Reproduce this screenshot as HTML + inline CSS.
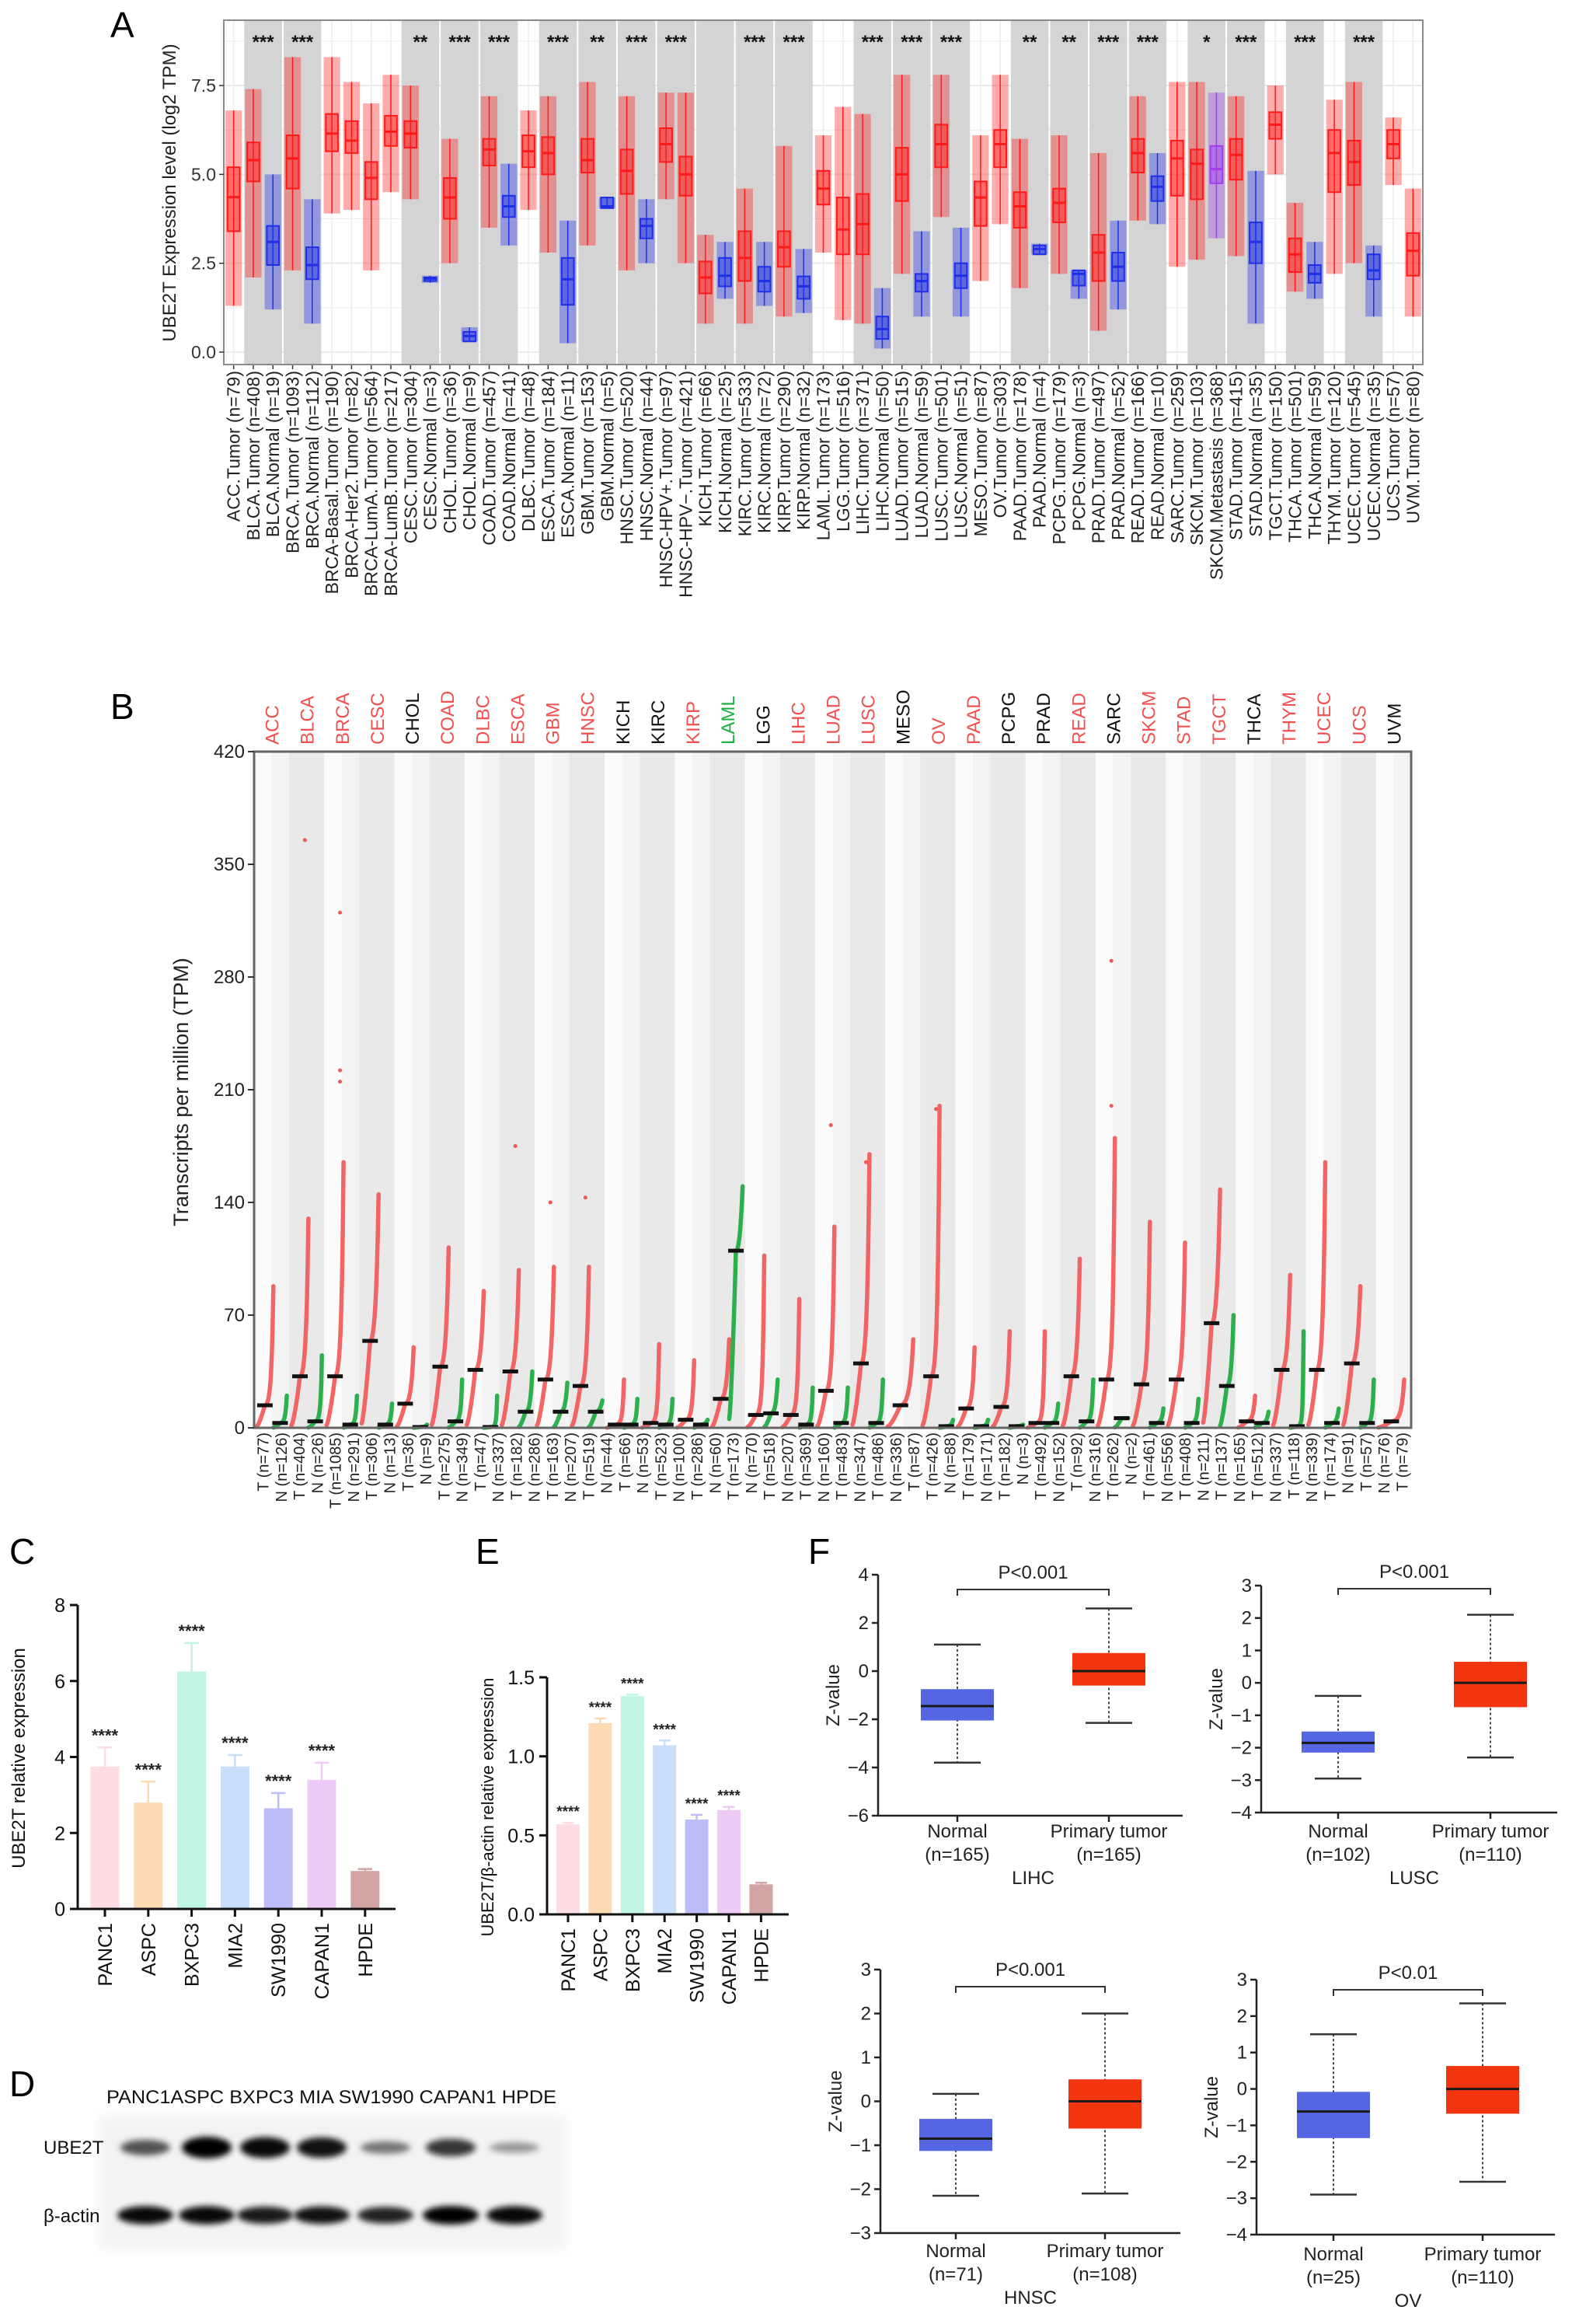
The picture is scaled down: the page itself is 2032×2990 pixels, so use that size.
<!DOCTYPE html>
<html><head><meta charset="utf-8"><title>UBE2T figure</title>
<style>
html,body{margin:0;padding:0;background:#fff;}
svg{display:block;font-family:"Liberation Sans",Arial,sans-serif;}
</style></head>
<body>
<svg id="fig" xmlns="http://www.w3.org/2000/svg" width="2032" height="2990" viewBox="0 0 2032 2990">
<defs>
<filter id="blur3" x="-30%" y="-100%" width="160%" height="300%"><feGaussianBlur stdDeviation="4"/></filter>
<filter id="blur8" x="-10%" y="-10%" width="120%" height="120%"><feGaussianBlur stdDeviation="8"/></filter>
</defs>
<rect x="0" y="0" width="2032" height="2990" fill="#fff"/>
<text x="142" y="48" font-size="46">A</text>
<text x="142" y="925" font-size="46">B</text>
<text x="12" y="2012" font-size="46">C</text>
<text x="612" y="2012" font-size="46">E</text>
<text x="12" y="2697" font-size="46">D</text>
<text x="1040" y="2012" font-size="46">F</text>
<g id="gA"></g>
<g id="gB"></g>
<g id="gC"></g>
<g id="gE"></g>
<g id="gD"></g>
<g id="gF"></g>
</svg>
<script>
// ---------- Panel A data ----------
const aLabels=["ACC.Tumor (n=79)","BLCA.Tumor (n=408)","BLCA.Normal (n=19)","BRCA.Tumor (n=1093)","BRCA.Normal (n=112)","BRCA-Basal.Tumor (n=190)","BRCA-Her2.Tumor (n=82)","BRCA-LumA.Tumor (n=564)","BRCA-LumB.Tumor (n=217)","CESC.Tumor (n=304)","CESC.Normal (n=3)","CHOL.Tumor (n=36)","CHOL.Normal (n=9)","COAD.Tumor (n=457)","COAD.Normal (n=41)","DLBC.Tumor (n=48)","ESCA.Tumor (n=184)","ESCA.Normal (n=11)","GBM.Tumor (n=153)","GBM.Normal (n=5)","HNSC.Tumor (n=520)","HNSC.Normal (n=44)","HNSC-HPV+.Tumor (n=97)","HNSC-HPV−.Tumor (n=421)","KICH.Tumor (n=66)","KICH.Normal (n=25)","KIRC.Tumor (n=533)","KIRC.Normal (n=72)","KIRP.Tumor (n=290)","KIRP.Normal (n=32)","LAML.Tumor (n=173)","LGG.Tumor (n=516)","LIHC.Tumor (n=371)","LIHC.Normal (n=50)","LUAD.Tumor (n=515)","LUAD.Normal (n=59)","LUSC.Tumor (n=501)","LUSC.Normal (n=51)","MESO.Tumor (n=87)","OV.Tumor (n=303)","PAAD.Tumor (n=178)","PAAD.Normal (n=4)","PCPG.Tumor (n=179)","PCPG.Normal (n=3)","PRAD.Tumor (n=497)","PRAD.Normal (n=52)","READ.Tumor (n=166)","READ.Normal (n=10)","SARC.Tumor (n=259)","SKCM.Tumor (n=103)","SKCM.Metastasis (n=368)","STAD.Tumor (n=415)","STAD.Normal (n=35)","TGCT.Tumor (n=150)","THCA.Tumor (n=501)","THCA.Normal (n=59)","THYM.Tumor (n=120)","UCEC.Tumor (n=545)","UCEC.Normal (n=35)","UCS.Tumor (n=57)","UVM.Tumor (n=80)"];
const aMed=[4.36,5.4,3.1,5.45,2.45,6.15,5.95,4.9,6.2,6.15,2.07,4.35,0.45,5.7,4.1,5.65,5.6,2.05,5.4,4.1,5.1,3.55,5.85,5.0,2.1,2.15,2.65,2.0,2.95,1.85,4.6,3.45,3.6,0.65,5.0,2.0,5.85,2.15,4.35,5.85,4.1,2.9,4.2,2.2,2.8,2.4,5.6,4.65,5.45,5.3,5.15,5.55,3.1,6.4,2.75,2.2,5.6,5.35,2.3,5.85,2.85];
const aQ1=[3.4,4.8,2.45,4.6,2.05,5.65,5.6,4.3,5.8,5.75,2.0,3.75,0.3,5.25,3.8,5.2,5.0,1.33,5.05,4.05,4.45,3.2,5.35,4.4,1.65,1.85,2.0,1.7,2.4,1.5,4.15,2.75,2.75,0.37,4.25,1.7,5.2,1.8,3.55,5.2,3.5,2.75,3.65,1.87,2.0,2.0,5.05,4.25,4.4,4.3,4.75,4.85,2.5,6.0,2.25,1.95,4.5,4.7,2.05,5.45,2.15];
const aQ3=[5.2,5.9,3.55,6.1,2.95,6.7,6.5,5.35,6.65,6.5,2.1,4.9,0.57,6.0,4.4,6.1,6.05,2.65,6.0,4.35,5.7,3.75,6.3,5.5,2.55,2.65,3.4,2.4,3.4,2.13,5.1,4.35,4.45,1.0,5.75,2.2,6.4,2.5,4.8,6.25,4.5,3.0,4.6,2.3,3.3,2.8,6.0,4.95,5.95,5.7,5.8,6.0,3.65,6.75,3.2,2.45,6.25,5.95,2.75,6.25,3.35];
const aLo=[1.3,2.1,1.2,2.3,0.8,3.9,4.0,2.3,4.5,4.3,1.95,2.5,0.3,3.5,3.0,4.0,2.8,0.25,3.0,4.05,2.3,2.5,4.3,2.5,0.8,1.5,0.8,1.3,1.0,1.1,2.8,0.9,0.8,0.1,2.2,1.0,3.8,1.0,2.0,3.6,1.8,2.75,2.2,1.5,0.6,1.2,3.7,3.6,2.4,2.6,3.2,2.7,0.8,5.0,1.7,1.5,2.2,2.5,1.0,4.7,1.0];
const aHi=[6.8,7.4,5.0,8.3,4.3,8.3,7.6,7.0,7.8,7.5,2.15,6.0,0.7,7.2,5.3,6.8,7.2,3.7,7.6,4.35,7.2,4.3,7.3,7.3,3.3,3.1,4.6,3.1,5.8,2.9,6.1,6.9,6.7,1.8,7.8,3.4,7.8,3.5,6.1,7.8,6.0,3.05,6.1,2.3,5.6,3.7,7.2,5.6,7.6,7.6,7.3,7.2,5.1,7.5,4.2,3.1,7.1,7.6,3.0,6.6,4.6];
const aGroupStart=[1,3,9,11,13,16,18,20,22,24,26,28,32,34,36,40,42,44,46,49,51,54,57];
const aGroupEnd=[2,4,10,12,14,17,19,21,23,25,27,29,33,35,37,41,43,45,47,50,52,55,58];
const aStars=["***","***","**","***","***","***","**","***","***","","***","***","***","***","***","**","**","***","***","*","***","***","***"];
const aTicks=[0,2.5,5,7.5];
const aTickLabels=["0.0","2.5","5.0","7.5"];

// ---------- Panel B data ----------
const bCancers=["ACC","BLCA","BRCA","CESC","CHOL","COAD","DLBC","ESCA","GBM","HNSC","KICH","KIRC","KIRP","LAML","LGG","LIHC","LUAD","LUSC","MESO","OV","PAAD","PCPG","PRAD","READ","SARC","SKCM","STAD","TGCT","THCA","THYM","UCEC","UCS","UVM"];
const bLabelColor=["r","r","r","r","k","r","r","r","r","r","k","k","r","g","k","r","r","r","k","r","r","k","k","r","k","r","r","r","k","r","r","r","k"];
const bTMed=[14,32,32,54,15,38,36,35,30,26,2,3,5,18,8,8,23,40,14,32,12,13,3,32,30,27,30,65,4,36,36,40,4];
const bTMax=[88,130,165,145,50,112,85,98,100,100,30,52,42,55,107,80,125,170,55,200,50,60,60,105,180,128,115,148,20,95,165,88,30];
const bNMed=[3,4,2,2,0.5,4,0.5,10,10,10,2,2,2,110,9,2,3,3,null,1,1,1,3,4,6,3,3,26,3,1,3,3,null];
const bNMax=[20,45,20,15,2,30,20,35,28,17,18,18,5,150,30,25,25,30,null,5,5,2,15,30,6,12,18,70,10,60,12,30,null];
const bOutCancer=[1,2,2,2,7,8,9,19,24,24,16,17];
const bOutVal=[365,320,222,215,175,140,143,198,290,200,188,165];
const bXLabels=["T (n=77)","N (n=126)","T (n=404)","N (n=26)","T (n=1085)","N (n=291)","T (n=306)","N (n=13)","T (n=36)","N (n=9)","T (n=275)","N (n=349)","T (n=47)","N (n=337)","T (n=182)","N (n=286)","T (n=163)","N (n=207)","T (n=519)","N (n=44)","T (n=66)","N (n=53)","T (n=523)","N (n=100)","T (n=286)","N (n=60)","T (n=173)","N (n=70)","T (n=518)","N (n=207)","T (n=369)","N (n=160)","T (n=483)","N (n=347)","T (n=486)","N (n=336)","T (n=87)","T (n=426)","N (n=88)","T (n=179)","N (n=171)","T (n=182)","N (n=3)","T (n=492)","N (n=152)","T (n=92)","N (n=316)","T (n=262)","N (n=2)","T (n=461)","N (n=556)","T (n=408)","N (n=211)","T (n=137)","N (n=165)","T (n=512)","N (n=337)","T (n=118)","N (n=339)","T (n=174)","N (n=91)","T (n=57)","N (n=76)","T (n=79)"];
const bTicks=[0,70,140,210,280,350,420];

// ---------- Panel C / E data ----------
const cellLines=["PANC1","ASPC","BXPC3","MIA2","SW1990","CAPAN1","HPDE"];
const cValues=[3.75,2.8,6.25,3.75,2.65,3.4,1.0];
const cErrors=[0.5,0.55,0.75,0.3,0.4,0.45,0.05];
const cSig=["****","****","****","****","****","****",""];
const cTicks=[0,2,4,6,8];
const eValues=[0.57,1.21,1.38,1.07,0.60,0.66,0.19];
const eErrors=[0.01,0.03,0.01,0.03,0.03,0.02,0.01];
const eSig=["****","****","****","****","****","****",""];
const eTicks=[0,0.5,1.0,1.5];
const eTickLabels=["0.0","0.5","1.0","1.5"];

// ---------- Panel D data ----------
const blotLanes=["PANC1","ASPC","BXPC3","MIA","SW1990","CAPAN1","HPDE"];
const ube2tIntensity=[0.55,1.0,0.95,0.9,0.35,0.7,0.18];
const actinIntensity=[0.95,0.95,0.85,0.9,0.8,1.0,0.95];

// ---------- Panel F data ----------
const fCancers=["LIHC","LUSC","HNSC","OV"];
const fPvals=["P<0.001","P<0.001","P<0.001","P<0.01"];
const fNormalN=["(n=165)","(n=102)","(n=71)","(n=25)"];
const fTumorN=["(n=165)","(n=110)","(n=108)","(n=110)"];
const fNormalLo=[-3.8,-2.95,-2.15,-2.9];
const fNormalQ1=[-2.05,-2.15,-1.13,-1.35];
const fNormalMed=[-1.45,-1.85,-0.85,-0.62];
const fNormalQ3=[-0.75,-1.5,-0.4,-0.08];
const fNormalHi=[1.1,-0.4,0.17,1.5];
const fTumorLo=[-2.15,-2.3,-2.1,-2.55];
const fTumorQ1=[-0.6,-0.75,-0.62,-0.68];
const fTumorMed=[0,0,0,0];
const fTumorQ3=[0.75,0.65,0.5,0.63];
const fTumorHi=[2.6,2.1,2.0,2.35];

const NS="http://www.w3.org/2000/svg";
function mk(tag,attrs,parent,txt){const e=document.createElementNS(NS,tag);for(const k in attrs)e.setAttribute(k,attrs[k]);if(txt!==undefined)e.textContent=txt;parent.appendChild(e);return e;}

// ================= Panel A =================
(function(){
const g=document.getElementById('gA');
const L=288,R=1831,T=26,B=469;
const yA=v=>453-45.73*v;
const w=(R-L)/aLabels.length;
const cx=i=>L+(i+0.5)*w;
let e=mk('rect',{x:L,y:T,width:R-L,height:B-T,fill:'#fff'},g);

for(let v=0;v<=8.75;v+=1.25){e=mk('line',{x1:L,x2:R,y1:yA(v),y2:yA(v),stroke:'#ebebeb','stroke-width':v%2.5===0?2:1},g);
}
for(let i=0;i<aLabels.length;i++){e=mk('line',{x1:cx(i),x2:cx(i),y1:T,y2:B,stroke:'#ededed','stroke-width':1.5},g);
}
for(let k=0;k<aGroupStart.length;k++){
 const x0=L+aGroupStart[k]*w+1,x1=L+(aGroupEnd[k]+1)*w-1;
 e=mk('rect',{x:x0,y:T,width:x1-x0,height:B-T,fill:'#d4d4d4'},g);
 
 if(aStars[k]){e=mk('text',{x:(x0+x1)/2,y:62,'font-size':24,'font-weight':'bold','text-anchor':'middle',fill:'#111'},g,aStars[k]);
 }
}
for(let i=0;i<aLabels.length;i++){
 const lab=aLabels[i];
 const col=lab.indexOf('Normal')>=0?'#1f2fe8':(lab.indexOf('Metastasis')>=0?'#a23cf0':'#ff1a1a');
 const x=cx(i),bw=w*0.62;
 e=mk('rect',{x:x-w*0.42,y:yA(aHi[i]),width:w*0.84,height:yA(aLo[i])-yA(aHi[i]),fill:col,opacity:0.36},g);
 
 e=mk('line',{x1:x,x2:x,y1:yA(aHi[i]),y2:yA(aLo[i]),stroke:col,'stroke-width':1.5},g);
 
 e=mk('rect',{x:x-bw/2,y:yA(aQ3[i]),width:bw,height:Math.max(2,yA(aQ1[i])-yA(aQ3[i])),fill:col,'fill-opacity':0.45,stroke:col,'stroke-width':2},g);
 
 e=mk('line',{x1:x-bw/2,x2:x+bw/2,y1:yA(aMed[i]),y2:yA(aMed[i]),stroke:col,'stroke-width':3},g);
 
 e=mk('line',{x1:x,x2:x,y1:B,y2:B+6,stroke:'#333','stroke-width':1.5},g);
 
 e=mk('text',{transform:`translate(${x+8},477) rotate(-90)`,'text-anchor':'end','font-size':23,fill:'#222'},g,lab);
 
}
e=mk('rect',{x:L,y:T,width:R-L,height:B-T,fill:'none',stroke:'#8a8a8a','stroke-width':2},g);

for(let k=0;k<aTicks.length;k++){
 const y=yA(aTicks[k]);
 e=mk('line',{x1:L-6,x2:L,y1:y,y2:y,stroke:'#333','stroke-width':1.5},g);
 
 e=mk('text',{x:L-10,y:y+8,'text-anchor':'end','font-size':23,fill:'#333'},g,aTickLabels[k]);
 
}
e=mk('text',{transform:'translate(226,248) rotate(-90)','text-anchor':'middle','font-size':24,fill:'#222'},g,'UBE2T Expression level (log2 TPM)');

})();

// ================= Panel B =================
(function(){
const g=document.getElementById('gB');
const L=327,R=1816,T=967,B=1837;
const yB=v=>B-v*(B-T)/420;
const wc=(R-L)/bCancers.length;
let e=mk('rect',{x:L,y:T,width:R-L,height:B-T,fill:'#fbfbfb'},g);

for(let c=0;c<bCancers.length;c++){
 const x0=L+c*wc;
 if(c%2===1){e=mk('rect',{x:x0,y:T,width:wc,height:B-T,fill:'#e9e9e9'},g);
 }
 else{e=mk('rect',{x:x0+wc/2,y:T,width:wc/2,height:B-T,fill:'#f3f3f3'},g);
 }
 const colr=bLabelColor[c]==='r'?'#f05050':(bLabelColor[c]==='g'?'#1cb040':'#111');
 e=mk('text',{transform:`translate(${x0+wc/2+9},958) rotate(-90)`,'font-size':24,fill:colr},g,bCancers[c]);
 
}
function curve(xs,xe,med,max,col,name){
 const pts=[];const n=22;
 for(let k=0;k<=n;k++){const p=k/n;let v;
  if(p<=0.5)v=med*(0.05+0.95*Math.pow(p/0.5,1.4));
  else v=med*Math.pow(max/med,Math.pow((p-0.5)/0.5,2.2));
  pts.push((xs+(xe-xs)*p).toFixed(1)+','+yB(v).toFixed(1));}
 let e=mk('polyline',{points:pts.join(' '),fill:'none',stroke:col,'stroke-width':5.5,'stroke-linecap':'round',opacity:0.9},g);
 
 e=mk('rect',{x:(xs+xe)/2-10,y:yB(med)-2.5,width:20,height:5,fill:'#111'},g);
 
}
for(let c=0;c<bCancers.length;c++){
 const x0=L+c*wc;
 const hasN=bNMed[c]!==null;
 curve(x0+3,x0+(hasN?wc*0.55:wc*0.8),Math.max(bTMed[c],0.5),bTMax[c],'#f25555','tumor-curve');
 if(hasN)curve(x0+wc*0.55,x0+wc-3,Math.max(bNMed[c],0.4),bNMax[c],'#18a83a','normal-curve');
}
for(let k=0;k<bOutCancer.length;k++){
 const x=L+bOutCancer[k]*wc+wc*0.45;
 e=mk('circle',{cx:x,cy:yB(bOutVal[k]),r:2.5,fill:'#f25555'},g);
 
}
e=mk('rect',{x:L,y:T,width:R-L,height:B-T,fill:'none',stroke:'#666','stroke-width':3},g);

for(const t of bTicks){
 e=mk('line',{x1:L-8,x2:L,y1:yB(t),y2:yB(t),stroke:'#333','stroke-width':2},g);
 
 e=mk('text',{x:L-12,y:yB(t)+8,'text-anchor':'end','font-size':24,fill:'#222'},g,String(t));
 
}
const ws=(R-L)/bXLabels.length;
for(let k=0;k<bXLabels.length;k++){
 const x=L+(k+0.5)*ws;
 e=mk('text',{transform:`translate(${x+7},1843) rotate(-90)`,'text-anchor':'end','font-size':20,fill:'#222'},g,bXLabels[k]);
 
}
e=mk('text',{transform:'translate(242,1405) rotate(-90)','text-anchor':'middle','font-size':27,fill:'#222'},g,'Transcripts per million (TPM)');

})();

// ================= Panels C & E =================
const barColors=['#fddde3','#fdd9b4','#bff5e2','#c8defa','#bcbcf8','#eecbf6','#d2a4a3'];
function barChart(g,cfg,vals,errs,sig,ticks,tickLabels){
 const y=v=>cfg.y0-(v-0)*(cfg.y0-cfg.yTop)/cfg.max;
 let e;
 for(let i=0;i<vals.length;i++){
  const cx=cfg.x0+i*cfg.sp;
  e=mk('rect',{x:cx-cfg.bw/2,y:y(vals[i]),width:cfg.bw,height:cfg.y0-y(vals[i]),fill:barColors[i]},g);
  
  e=mk('line',{x1:cx,x2:cx,y1:y(vals[i]),y2:y(vals[i]+errs[i]),stroke:barColors[i],'stroke-width':2.5},g);
  
  e=mk('line',{x1:cx-cfg.bw*0.25,x2:cx+cfg.bw*0.25,y1:y(vals[i]+errs[i]),y2:y(vals[i]+errs[i]),stroke:barColors[i],'stroke-width':2.5},g);
  
  if(sig[i]){e=mk('text',{x:cx,y:y(vals[i]+errs[i])-8,'text-anchor':'middle','font-size':cfg.sf,'font-weight':'bold',fill:'#222'},g,sig[i]);
  }
  e=mk('line',{x1:cx,x2:cx,y1:cfg.y0,y2:cfg.y0+10,stroke:'#111','stroke-width':3},g);
  
  e=mk('text',{transform:`translate(${cx+9},${cfg.y0+18}) rotate(-90)`,'text-anchor':'end','font-size':25,fill:'#111'},g,cellLines[i]);
  
 }
 e=mk('line',{x1:cfg.ax,x2:cfg.ax,y1:cfg.yTop,y2:cfg.y0,stroke:'#111','stroke-width':3},g);
 
 e=mk('line',{x1:cfg.ax,x2:cfg.right,y1:cfg.y0,y2:cfg.y0,stroke:'#111','stroke-width':3},g);
 
 for(let k=0;k<ticks.length;k++){
  e=mk('line',{x1:cfg.ax-10,x2:cfg.ax,y1:y(ticks[k]),y2:y(ticks[k]),stroke:'#111','stroke-width':3},g);
  
  e=mk('text',{x:cfg.ax-16,y:y(ticks[k])+9,'text-anchor':'end','font-size':25,fill:'#111'},g,tickLabels[k]);
  
 }
 e=mk('text',{transform:`translate(${cfg.tx},${cfg.ty}) rotate(-90)`,'text-anchor':'middle','font-size':cfg.tf,fill:'#111'},g,cfg.title);
 
}
barChart(document.getElementById('gC'),{x0:135,sp:55.8,bw:37,y0:2456,yTop:2065,max:8,ax:100,right:509,sf:22,tx:32,ty:2262,tf:24,title:'UBE2T relative expression'},cValues,cErrors,cSig,cTicks,cTicks.map(String));
barChart(document.getElementById('gE'),{x0:731,sp:41.4,bw:30,y0:2463,yTop:2158,max:1.5,ax:704,right:1015,sf:19,tx:635,ty:2325,tf:22,title:'UBE2T/β-actin relative expression'},eValues,eErrors,eSig,eTicks,eTickLabels);

// ================= Panel D =================
(function(){
const g=document.getElementById('gD');
const laneX=[187,266,341,414,496,580,662];
let e=mk('rect',{x:128,y:2722,width:600,height:172,fill:'#f3f3f3',filter:'url(#blur8)'},g);

e=mk('text',{x:137,y:2706,'font-size':24,fill:'#111',textLength:579,lengthAdjust:'spacingAndGlyphs'},g,'PANC1ASPC BXPC3 MIA SW1990 CAPAN1 HPDE');

e=mk('text',{x:56,y:2771,'font-size':24,fill:'#111'},g,'UBE2T');

e=mk('text',{x:56,y:2859,'font-size':24,fill:'#111'},g,'β-actin');

for(let i=0;i<blotLanes.length;i++){
 e=mk('ellipse',{cx:laneX[i],cy:2763,rx:32,ry:5+9*ube2tIntensity[i],fill:'#000',opacity:0.25+0.75*ube2tIntensity[i],filter:'url(#blur3)'},g);
 
 e=mk('ellipse',{cx:laneX[i],cy:2850,rx:36,ry:6+6*actinIntensity[i],fill:'#000',opacity:0.3+0.7*actinIntensity[i],filter:'url(#blur3)'},g);
 
}
})();

// ================= Panel F =================
(function(){
const g=document.getElementById('gF');
const cfgs=[
 {ax:1130,yHi:4,yLo:-6,pHi:2026,pLo:2336,right:1522,cn:1232,ct:1427,step:2,by:2045,ly:2356},
 {ax:1623,yHi:3,yLo:-4,pHi:2040,pLo:2332,right:2004,cn:1722,ct:1918,step:1,by:2044,ly:2356},
 {ax:1133,yHi:3,yLo:-3,pHi:2534,pLo:2873,right:1519,cn:1230,ct:1422,step:1,by:2556,ly:2896},
 {ax:1617,yHi:3,yLo:-4,pHi:2547,pLo:2875,right:2001,cn:1716,ct:1908,step:1,by:2560,ly:2900}];
for(let p=0;p<4;p++){
 const c=cfgs[p];
 const y=v=>c.pLo-(v-c.yLo)*(c.pLo-c.pHi)/(c.yHi-c.yLo);
 let e;
 function box(cx,lo,q1,med,q3,hi,col,nm){
  e=mk('line',{x1:cx,x2:cx,y1:y(hi),y2:y(lo),stroke:'#444','stroke-width':2,'stroke-dasharray':'3,3'},g);
  
  for(const v of [lo,hi]){e=mk('line',{x1:cx-30,x2:cx+30,y1:y(v),y2:y(v),stroke:'#333','stroke-width':2.5},g);
  }
  e=mk('rect',{x:cx-47,y:y(q3),width:94,height:y(q1)-y(q3),fill:col},g);
  
  e=mk('line',{x1:cx-47,x2:cx+47,y1:y(med),y2:y(med),stroke:'#1a1a1a','stroke-width':3},g);
  
 }
 box(c.cn,fNormalLo[p],fNormalQ1[p],fNormalMed[p],fNormalQ3[p],fNormalHi[p],'#5566e2','normal');
 box(c.ct,fTumorLo[p],fTumorQ1[p],fTumorMed[p],fTumorQ3[p],fTumorHi[p],'#f2340f','tumor');
 e=mk('line',{x1:c.ax,x2:c.ax,y1:c.pHi,y2:c.pLo,stroke:'#222','stroke-width':2.5},g);
 
 e=mk('line',{x1:c.ax,x2:c.right,y1:c.pLo,y2:c.pLo,stroke:'#222','stroke-width':2.5},g);
 
 for(let v=c.yLo;v<=c.yHi;v+=c.step){
  e=mk('line',{x1:c.ax-8,x2:c.ax,y1:y(v),y2:y(v),stroke:'#222','stroke-width':2.5},g);
  
  e=mk('text',{x:c.ax-12,y:y(v)+8,'text-anchor':'end','font-size':24,fill:'#222'},g,v<0?'−'+(-v):String(v));
  
 }
 for(const cx of [c.cn,c.ct]){e=mk('line',{x1:cx,x2:cx,y1:c.pLo,y2:c.pLo+8,stroke:'#222','stroke-width':2.5},g);
 }
 e=mk('path',{d:`M${c.cn},${c.by+8} V${c.by} H${c.ct} V${c.by+8}`,fill:'none',stroke:'#333','stroke-width':2},g);
 
 e=mk('text',{x:(c.cn+c.ct)/2,y:c.by-14,'text-anchor':'middle','font-size':24,fill:'#222'},g,fPvals[p]);
 
 e=mk('text',{x:c.cn,y:c.ly+8,'text-anchor':'middle','font-size':24,fill:'#222'},g,'Normal');
 
 e=mk('text',{x:c.cn,y:c.ly+38,'text-anchor':'middle','font-size':24,fill:'#222'},g,fNormalN[p]);
 
 e=mk('text',{x:c.ct,y:c.ly+8,'text-anchor':'middle','font-size':24,fill:'#222'},g,'Primary tumor');
 
 e=mk('text',{x:c.ct,y:c.ly+38,'text-anchor':'middle','font-size':24,fill:'#222'},g,fTumorN[p]);
 
 e=mk('text',{x:(c.cn+c.ct)/2,y:c.ly+68,'text-anchor':'middle','font-size':24,fill:'#222'},g,fCancers[p]);
 
 e=mk('text',{transform:`translate(${c.ax-50},${(c.pHi+c.pLo)/2}) rotate(-90)`,'text-anchor':'middle','font-size':24,fill:'#222'},g,'Z-value');
 
}
})();
</script>
</body></html>
